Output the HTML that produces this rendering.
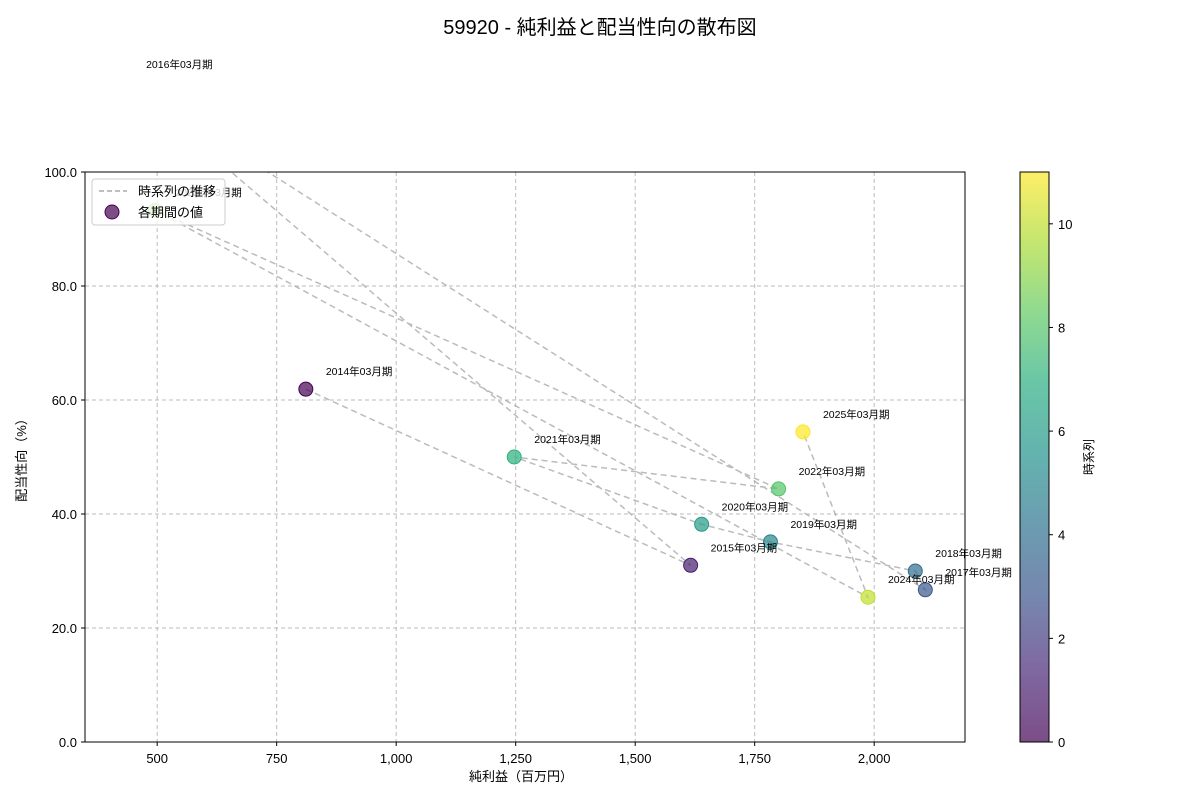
<!DOCTYPE html>
<html><head><meta charset="utf-8"><style>
body{margin:0;background:#fff;}
svg{font-family:"Liberation Sans","Noto Sans CJK JP",sans-serif;}
</style></head><body>
<svg id="chart" width="1200" height="800">
<defs>
<linearGradient id="vir" x1="0" y1="1" x2="0" y2="0">
<stop offset="0" stop-color="#440154"/><stop offset="0.13" stop-color="#482878"/><stop offset="0.25" stop-color="#3b528b"/><stop offset="0.38" stop-color="#2c728e"/><stop offset="0.5" stop-color="#21918c"/><stop offset="0.63" stop-color="#28ae80"/><stop offset="0.75" stop-color="#5ec962"/><stop offset="0.88" stop-color="#addc30"/><stop offset="1" stop-color="#fde725"/>
</linearGradient>
<clipPath id="plotclip"><rect x="85" y="172" width="880" height="570"/></clipPath>
</defs>
<text x="600" y="34" text-anchor="middle" font-size="20">59920 - 純利益と配当性向の散布図</text>
<g id="grid"></g>
<g id="lines" clip-path="url(#plotclip)"></g>
<g id="points"></g>
<g id="labels"></g>
<rect x="85" y="172" width="880" height="570" fill="none" stroke="#000" stroke-width="1"/>
<g id="axes"></g>
<text x="521" y="781" text-anchor="middle" font-size="13">純利益（百万円）</text>
<text transform="translate(26,457) rotate(-90)" text-anchor="middle" font-size="13">配当性向（%）</text>
<g>
<rect x="92" y="179" width="133" height="46" rx="3" fill="#fff" fill-opacity="0.8" stroke="#ccc"/>
<line x1="99" y1="191" x2="127" y2="191" stroke="#aaa" stroke-width="1.5" stroke-dasharray="5,3"/>
<text x="138" y="196" font-size="13">時系列の推移</text>
<circle cx="112" cy="212" r="7" fill="#440154" fill-opacity="0.7" stroke="#440154"/>
<text x="138" y="217" font-size="13">各期間の値</text>
</g>
<g>
<rect x="1020" y="172" width="29" height="570" fill="url(#vir)" opacity="0.7"/>
<rect x="1020" y="172" width="29" height="570" fill="none" stroke="#000"/>
<g id="cbticks"></g>
<text transform="translate(1093,457) rotate(-90)" text-anchor="middle" font-size="12">時系列</text>
</g>
</svg>
<script>
const periods = ["2014年03月期","2015年03月期","2016年03月期","2017年03月期","2018年03月期","2019年03月期","2020年03月期","2021年03月期","2022年03月期","2023年03月期","2024年03月期","2025年03月期"];
const netIncome = [811,1616,435,2107,2086,1783,1639,1247,1800,496,1987,1851];
const payoutRatio = [61.9,31.0,115.8,26.7,30.0,35.1,38.2,50.0,44.4,93.3,25.4,54.4];
const xTicks = [500,750,1000,1250,1500,1750,2000];
const yTicks = [0,20,40,60,80,100];
const cbTicks = [0,2,4,6,8,10];

const NS="http://www.w3.org/2000/svg";
const X0=85,X1=965,Y0=742,Y1=172, xmin=349, xmax=2190, ymin=0, ymax=100;
const sx=v=>X0+(v-xmin)/(xmax-xmin)*(X1-X0);
const sy=v=>Y0-(v-ymin)/(ymax-ymin)*(Y0-Y1);
const cby=v=>742-v/11*570;
function mk(tag,attrs,parent,text){const e=document.createElementNS(NS,tag);for(const k in attrs)e.setAttribute(k,attrs[k]);if(text!==undefined)e.textContent=text;parent.appendChild(e);return e;}
const stops=[[0,[68,1,84]],[0.13,[72,40,120]],[0.25,[59,82,139]],[0.38,[44,114,142]],[0.5,[33,145,140]],[0.63,[40,174,128]],[0.75,[94,201,98]],[0.88,[173,220,48]],[1,[253,231,37]]];
function vir(t){for(let i=1;i<stops.length;i++){if(t<=stops[i][0]){const a=stops[i-1],b=stops[i],f=(t-a[0])/(b[0]-a[0]);return 'rgb('+a[1].map((c,j)=>Math.round(c+(b[1][j]-c)*f)).join(',')+')';}}return 'rgb(253,231,37)';}
const grid=document.getElementById('grid'),axes=document.getElementById('axes');
xTicks.forEach(t=>{const x=sx(t);
const g=mk('line',{x1:x,x2:x,y1:Y1,y2:Y0,stroke:'#bbb','stroke-dasharray':'4,3'},grid);

mk('line',{x1:x,x2:x,y1:Y0,y2:Y0+4,stroke:'#000'},axes);
const l=mk('text',{x:x,y:Y0+21,'text-anchor':'middle','font-size':'13'},axes,t.toLocaleString('en-US'));
});
yTicks.forEach(t=>{const y=sy(t);
const g=mk('line',{x1:X0,x2:X1,y1:y,y2:y,stroke:'#bbb','stroke-dasharray':'4,3'},grid);

mk('line',{x1:X0-4,x2:X0,y1:y,y2:y,stroke:'#000'},axes);
const l=mk('text',{x:X0-8,y:y+5,'text-anchor':'end','font-size':'13'},axes,t.toFixed(1));
});
const cbt=document.getElementById('cbticks');
cbTicks.forEach(t=>{const y=cby(t);mk('line',{x1:1049,x2:1053,y1:y,y2:y,stroke:'#000'},cbt);
const l=mk('text',{x:1058,y:y+5,'font-size':'13'},cbt,String(t));
});
const pts=netIncome.map((v,i)=>sx(v)+','+sy(payoutRatio[i])).join(' ');
const pl=mk('polyline',{points:pts,fill:'none',stroke:'#aaa','stroke-width':1.5,'stroke-dasharray':'6,4','stroke-opacity':0.8},document.getElementById('lines'));

const P=document.getElementById('points'),L=document.getElementById('labels');
netIncome.forEach((v,i)=>{const x=sx(v),y=sy(payoutRatio[i]);const c=vir(i/11);
const inPlot=y>=Y1&&y<=Y0;
if(inPlot){const ci=mk('circle',{cx:x,cy:y,r:7,fill:c,'fill-opacity':0.7,stroke:c},P);
}
const t=mk('text',{x:x+20,y:y-14,'font-size':'10.5'},L,periods[i]);
});
</script>
</body></html>
